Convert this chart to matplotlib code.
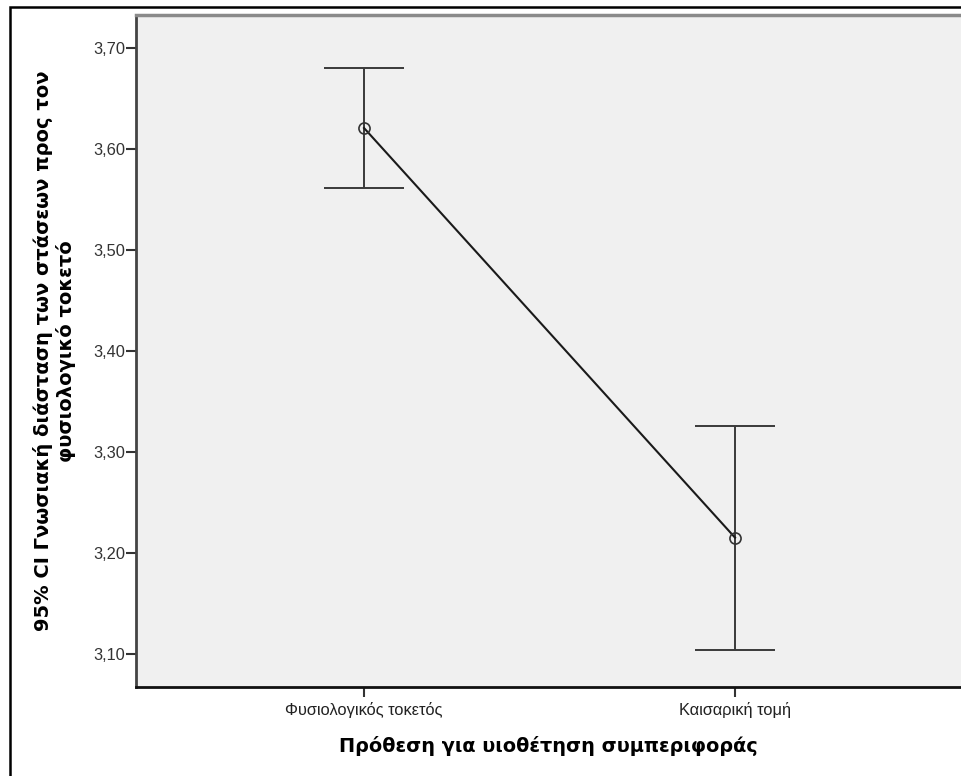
import matplotlib
matplotlib.use("Agg")
import matplotlib.pyplot as plt
from matplotlib.patches import Rectangle

plt.rcParams['font.family'] = ['Liberation Sans', 'DejaVu Sans']

categories = ["Φυσιολογικός τοκετός", "Καισαρική τομή"]
means = [3.621, 3.215]
ci_lower = [3.562, 3.104]
ci_upper = [3.680, 3.326]
yticks = [3.10, 3.20, 3.30, 3.40, 3.50, 3.60, 3.70]
ytick_labels = ["3,10", "3,20", "3,30", "3,40", "3,50", "3,60", "3,70"]

W, H = 961, 776
fig = plt.figure(figsize=(W / 100, H / 100), dpi=100)
fig.patch.set_facecolor("white")

# outer frame of the chart
fig.patches.append(Rectangle((10 / W, -0.05), 1.2, 1 - 7 / H + 0.05,
                             transform=fig.transFigure, fill=False,
                             edgecolor="black", linewidth=1.8, zorder=0))

left, right, top, bottom = 136, 961, 15, 687
ax = fig.add_axes([left / W, 1 - bottom / H, (right - left) / W, (bottom - top) / H])
ax.set_facecolor("#F0F0F0")

x = list(range(len(categories)))
err_low = [m - l for m, l in zip(means, ci_lower)]
err_high = [u - m for m, u in zip(means, ci_upper)]

ax.errorbar(x, means, yerr=[err_low, err_high], fmt="none",
            ecolor="#3a3a3a", elinewidth=1.4, capsize=29, capthick=1.4, zorder=2)
ax.plot(x, means, color="#1a1a1a", linewidth=1.5, zorder=3)
ax.plot(x, means, linestyle="none", marker="o", markersize=8,
        markerfacecolor="none", markeredgecolor="#333333", markeredgewidth=1.2, zorder=4)

ax.set_xlim(-0.6146, 1.609)
ax.set_ylim(3.067, 3.733)
ax.set_xticks(x)
ax.set_xticklabels(categories, fontsize=11.8, color="#222222")
ax.set_yticks(yticks)
ax.set_yticklabels(ytick_labels, fontsize=11.8, color="#333333")
ax.tick_params(axis="y", direction="out", length=7, width=1.5, color="#333333", pad=1)
ax.tick_params(axis="x", direction="out", length=7, width=1.5, color="#333333", pad=4)

ax.spines["right"].set_visible(False)
ax.spines["top"].set_color("#8a8a8a")
ax.spines["top"].set_linewidth(2.5)
ax.spines["left"].set_color("#444444")
ax.spines["left"].set_linewidth(2)
ax.spines["bottom"].set_color("#111111")
ax.spines["bottom"].set_linewidth(2)

label_font = ['DejaVu Sans']
ax.set_xlabel("Πρόθεση για υιοθέτηση συμπεριφοράς", fontsize=13.9, fontweight="bold",
              family=label_font, labelpad=13)
ax.set_ylabel("95% CI Γνωσιακή διάσταση των στάσεων προς τον\nφυσιολογικό τοκετό",
              fontsize=14, fontweight="bold", family=label_font, labelpad=12,
              linespacing=1.2)

fig.savefig("out.png", dpi=100)
